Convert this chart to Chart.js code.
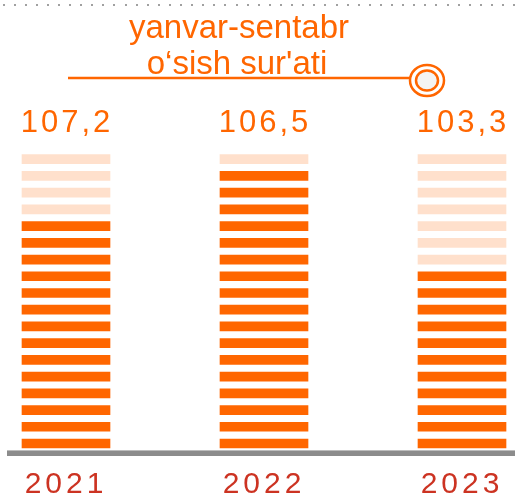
<!DOCTYPE html>
<html>
<head>
<meta charset="utf-8">
<script src="https://cdn.jsdelivr.net/npm/chart.js@4.4.1/dist/chart.umd.min.js"></script>
<style>
  html, body { margin: 0; padding: 0; background: #ffffff; }
  #wrap { width: 515px; height: 495px; position: relative; }
</style>
</head>
<body>
<div id="wrap"><canvas id="c" width="515" height="495"></canvas></div>
<script>
// ---- data ----
const years = ['2021', '2022', '2023'];
const growthRate = [107.2, 106.5, 103.3];          // label above each column
const filledStripes = [14, 17, 11];                 // dark stripes per column
const totalStripes = 18;                            // stripes per column
const titleLines = ['yanvar-sentabr', 'o\u2018sish sur\'ati'];

const DARK = '#ff6600';
const LIGHT = '#ffe0cc';
const FONT = '"Liberation Sans", Arial, sans-serif';

const datasets = [];
for (let k = 0; k < totalStripes; k++) {
  datasets.push({
    data: years.map(() => [k, k + 0.54]),
    backgroundColor: years.map((_, i) => (k < filledStripes[i] ? DARK : LIGHT)),
    borderWidth: 0,
    grouped: false,
    barThickness: 88,
    clip: false
  });
}

const decor = {
  id: 'decor',
  beforeDraw(chart) {
    const ctx = chart.ctx;
    // top dotted rule
    ctx.save();
    ctx.fillStyle = '#a0a0a0';
    for (let x = 2.5; x < 515; x += 11.1) {
      ctx.fillRect(Math.round(x), 4, 2, 2);
    }
    ctx.restore();
    ctx.letterSpacing = '4px';
  },
  afterDatasetsDraw(chart) {
    const ctx = chart.ctx;
    const xs = chart.scales.x, ys = chart.scales.y;
    const y0 = ys.getPixelForValue(0);
    ctx.save();
    // baseline axis
    ctx.fillStyle = '#bdbdbd';
    ctx.fillRect(7, y0 + 2, 508, 1);
    ctx.fillStyle = '#8c8c8c';
    ctx.fillRect(7, y0 + 3, 508, 5);
    // value labels
    ctx.letterSpacing = '3px';
    ctx.fillStyle = DARK;
    ctx.font = '31px ' + FONT;
    ctx.textAlign = 'center';
    ctx.textBaseline = 'alphabetic';
    growthRate.forEach((v, i) => {
      const x = xs.getPixelForValue(i);
      ctx.fillText(v.toFixed(1).replace('.', ','), x + 1, 132);
    });
    // title
    ctx.letterSpacing = '0px';
    ctx.font = '33px ' + FONT;
    ctx.fillText(titleLines[0], 239, 38);
    ctx.fillText(titleLines[1], 237, 74);
    // legend line + marker
    ctx.strokeStyle = DARK;
    ctx.lineWidth = 2.5;
    ctx.beginPath();
    ctx.moveTo(68, 78);
    ctx.lineTo(410, 78);
    ctx.stroke();
    ctx.beginPath();
    ctx.ellipse(427, 80.5, 17, 15.5, 0, 0, Math.PI * 2);
    ctx.fillStyle = '#ffffff';
    ctx.fill();
    ctx.stroke();
    ctx.beginPath();
    ctx.ellipse(427, 80.5, 11, 10, 0, 0, Math.PI * 2);
    ctx.fillStyle = '#f4f4f4';
    ctx.fill();
    ctx.stroke();
    ctx.restore();
  }
};

new Chart(document.getElementById('c'), {
  type: 'bar',
  data: { labels: years, datasets },
  options: {
    responsive: false,
    animation: false,
    devicePixelRatio: 1,
    layout: { padding: { left: 66, right: 53, top: 147, bottom: 0 } },
    plugins: { legend: { display: false }, tooltip: { enabled: false } },
    scales: {
      x: {
        offset: false,
        grid: { display: false, drawTicks: false, offset: false },
        border: { display: false },
        afterFit(scale) { scale.height = 47; },
        ticks: {
          color: '#cc3322',
          padding: 4,
          font: { family: FONT, size: 30, lineHeight: 2.2 },
          maxRotation: 0,
          autoSkip: false
        }
      },
      y: {
        display: false,
        min: 0,
        max: 18
      }
    }
  },
  plugins: [decor]
});
</script>
</body>
</html>
